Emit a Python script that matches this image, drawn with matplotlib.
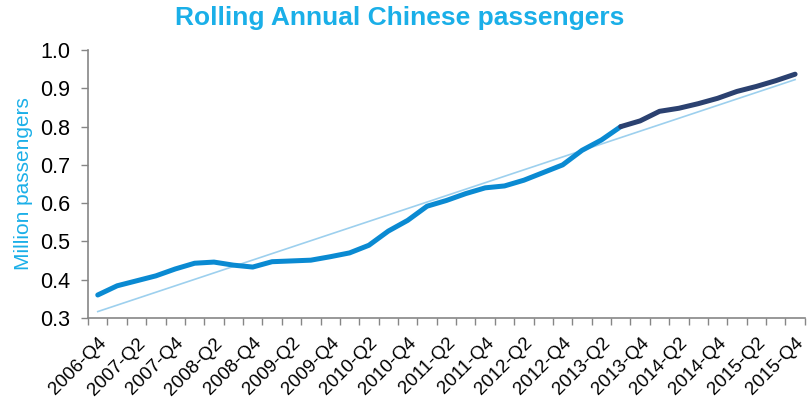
import numpy as np
import matplotlib.pyplot as plt

plt.rcParams['font.family'] = ['Liberation Sans', 'DejaVu Sans']

# Quartale 2006-Q4 bis 2015-Q4
quarters = []
for year in range(2006, 2016):
    for q in range(1, 5):
        if (year == 2006 and q < 4):
            continue
        quarters.append('%d-Q%d' % (year, q))

# rollierende Jahressumme, Mio. Passagiere
passengers = [0.360, 0.384, 0.397, 0.410, 0.428, 0.443, 0.446, 0.438, 0.433,
              0.447, 0.449, 0.451, 0.460, 0.470, 0.490, 0.527, 0.555, 0.592,
              0.607, 0.625, 0.640, 0.645, 0.660, 0.680, 0.700, 0.738, 0.765,
              0.800, 0.815, 0.840, 0.848, 0.860, 0.874, 0.892, 0.905, 0.920,
              0.937]
split = 27  # ab 2013-Q3 dunkel

x = np.arange(len(quarters))
y = np.array(passengers)

# lineare Trendlinie
a, b = np.polyfit(x, y, 1)

fig = plt.figure(figsize=(8.08, 4.04), dpi=100)
ax = fig.add_axes([0.109, 0.213, 0.887, 0.663])

ax.plot(x, a*x + b, color='#9DD0EE', lw=1.2, zorder=1)
ax.plot(x[:split+1], y[:split+1], color='#0A8AD2', lw=3.6,
        solid_capstyle='round', solid_joinstyle='round', zorder=2)
ax.plot(x[split:], y[split:], color='#2B4170', lw=3.6,
        solid_capstyle='round', solid_joinstyle='round', zorder=3)

ax.set_xlim(-0.5, len(quarters) - 0.5)
ax.set_ylim(0.3, 1.0)
ax.set_yticks(np.arange(0.3, 1.01, 0.1))
ax.set_yticklabels(['%.1f' % v for v in np.arange(0.3, 1.01, 0.1)], fontsize=15.5)

ax.set_xticks(x[::2])
ax.set_xticklabels(quarters[::2], rotation=45, ha='right',
                   rotation_mode='anchor', fontsize=13.5)
ax.set_xticks(np.arange(-0.5, len(quarters), 1), minor=True)
ax.tick_params(axis='x', which='major', length=0, pad=12)
ax.tick_params(axis='x', which='minor', length=5, color='#868686', width=1)
ax.tick_params(axis='y', length=5, color='#868686', width=1, pad=8)

for s in ['top', 'right']:
    ax.spines[s].set_visible(False)
for s in ['left', 'bottom']:
    ax.spines[s].set_color('#868686')
    ax.spines[s].set_linewidth(1.2)

ax.set_ylabel('Million passengers', color='#1AAFE8', fontsize=15, labelpad=5)
fig.text(0.495, 0.955, 'Rolling Annual Chinese passengers', color='#1AAFE8',
         fontsize=19, fontweight='bold', ha='center', va='center')

fig.savefig('out.png', dpi=100)
